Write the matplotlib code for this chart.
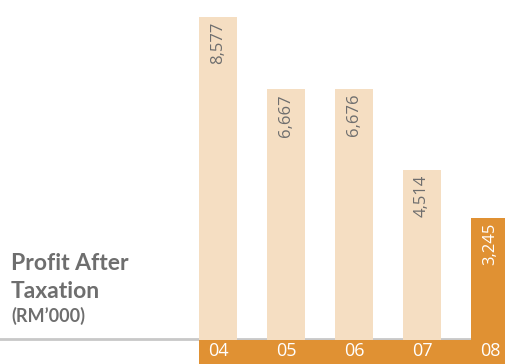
import numpy as np
import matplotlib.pyplot as plt

# 数据
years = ["04", "05", "06", "07", "08"]
profit = [8577, 6667, 6676, 4514, 3245]
value_labels = ["8,577", "6,667", "6,676", "4,514", "3,245"]

W, H = 506, 364
light = "#f5dec2"
orange = "#e09133"
grey = "#6e6e6e"

fig = plt.figure(figsize=(W / 100, H / 100), dpi=100)
ax = fig.add_axes([0, 0, 1, 1])
ax.axis("off")

# 像素 -> 数据 的比例
px = 8577 / 323.0
pitch = 68.0
x = np.arange(len(years))
ax.set_xlim(-218 / pitch, (W - 218) / pitch)
ax.set_ylim(-24 * px, 340 * px)

# 底部灰线和橙色条
ax.axhline(1.5 * px, xmin=0, xmax=1, color="#c8c8c8", lw=2, zorder=1)
ax.axhspan(-24 * px, 0, xmin=199 / W, xmax=1, color=orange, lw=0, zorder=2)

colors = [light] * 4 + [orange]
ax.bar(x, profit, width=38 / pitch, color=colors, zorder=3, align="center")

for i in range(len(years)):
    tc = "white" if i == len(years) - 1 else grey
    ax.text(x[i], profit[i] - 5 * px, value_labels[i], rotation=90,
            ha="center", va="top", color=tc, fontsize=12,
            family="Open Sans", zorder=4)
    ax.text(x[i], -11 * px, years[i], ha="center", va="center",
            color="white", fontsize=13, family="Open Sans", zorder=4)

fig.text(11 / W, 1 - 264 / H, "Profit After", fontsize=16.5, fontweight="bold",
         color=grey, family="Lato", va="center", ha="left")
fig.text(11 / W, 1 - 291 / H, "Taxation", fontsize=16.5, fontweight="bold",
         color=grey, family="Lato", va="center", ha="left")
fig.text(11 / W, 1 - 316 / H, "(RM\u2019000)", fontsize=13, fontweight="bold",
         color=grey, family="Lato", va="center", ha="left")

fig.savefig("out.png", dpi=100)
